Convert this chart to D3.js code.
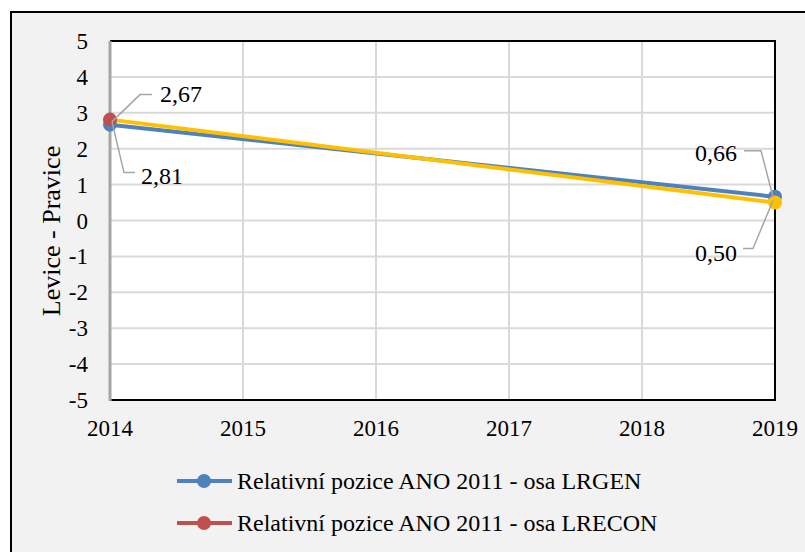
<!DOCTYPE html>
<head>
<meta charset="utf-8">
<style>
body { margin: 0; background: #fff; }
</style>
</head>
<body>
<script src="https://cdn.jsdelivr.net/npm/d3@7"></script>
<script>

// data
var years = [2014, 2019];
var lrgen = [2.67, 0.66];
var lrecon = [2.81, 0.50];
var yTicks = [-5, -4, -3, -2, -1, 0, 1, 2, 3, 4, 5];
var xTicks = [2014, 2015, 2016, 2017, 2018, 2019];
var seriesNames = ["Relativní pozice ANO 2011 - osa LRGEN", "Relativní pozice ANO 2011 - osa LRECON"];

var W = 805, H = 552;
var plot = {left: 110, right: 775, top: 41, bottom: 400};

var svg = d3.select("body").append("svg")
    .attr("width", W)
    .attr("height", H)
    .attr("font-family", "Liberation Serif");

// outer chart frame (runs off right and bottom edge)
svg.append("rect")
    .attr("x", 11).attr("y", 12)
    .attr("width", W + 20).attr("height", H + 20)
    .attr("fill", "#f2f2f2")
    .attr("stroke", "#000")
    .attr("stroke-width", 2);

var x = d3.scaleLinear().domain([2014, 2019]).range([plot.left, plot.right]);
var y = d3.scaleLinear().domain([-5, 5]).range([plot.bottom, plot.top]);

// plot area
svg.append("rect")
    .attr("x", plot.left).attr("y", plot.top)
    .attr("width", plot.right - plot.left).attr("height", plot.bottom - plot.top)
    .attr("fill", "#fff");

// grid
svg.append("g").selectAll("line").data(yTicks).join("line")
    .attr("x1", plot.left).attr("x2", plot.right)
    .attr("y1", d => y(d)).attr("y2", d => y(d))
    .attr("stroke", "#d9d9d9").attr("stroke-width", 2);
svg.append("g").selectAll("line").data(xTicks).join("line")
    .attr("x1", d => x(d)).attr("x2", d => x(d))
    .attr("y1", plot.top).attr("y2", plot.bottom)
    .attr("stroke", "#d9d9d9").attr("stroke-width", 2);

// plot border: black top/right/bottom, grey y axis on left
svg.append("path")
    .attr("d", "M" + plot.left + "," + plot.top + "H" + plot.right + "V" + plot.bottom + "H" + plot.left)
    .attr("fill", "none").attr("stroke", "#000").attr("stroke-width", 2);
svg.append("line")
    .attr("x1", plot.left).attr("x2", plot.left)
    .attr("y1", plot.top).attr("y2", plot.bottom + 1)
    .attr("stroke", "#a6a6a6").attr("stroke-width", 3);

// y tick labels
svg.append("g").selectAll("text").data(yTicks).join("text")
    .attr("x", 88).attr("y", d => y(d))
    .attr("dy", "0.35em")
    .attr("text-anchor", "end")
    .attr("font-size", 23)
    .text(d => d);

// x tick labels
svg.append("g").selectAll("text").data(xTicks).join("text")
    .attr("x", d => x(d)).attr("y", 428)
    .attr("dy", "0.35em")
    .attr("text-anchor", "middle")
    .attr("font-size", 23)
    .text(d => d);

// y axis title
svg.append("text")
    .attr("transform", "translate(51,231) rotate(-90)")
    .attr("text-anchor", "middle")
    .attr("dy", "0.35em")
    .attr("font-size", 26)
    .text("Levice - Pravice");

var line = d3.line().x(d => x(d[0])).y(d => y(d[1]));
var blueData = years.map((yr, i) => [yr, lrgen[i]]);
var yellowData = years.map((yr, i) => [yr, lrecon[i]]);

svg.append("path").datum(blueData)
    .attr("d", line).attr("fill", "none")
    .attr("stroke", "#4f81bd").attr("stroke-width", 4);
svg.append("path").datum(yellowData)
    .attr("d", line).attr("fill", "none")
    .attr("stroke", "#ffc000").attr("stroke-width", 4);

// markers
var blueColors = ["#4f81bd", "#4f81bd"];
var reconColors = ["#c0504d", "#ffc000"];
svg.append("g").selectAll("circle").data(blueData).join("circle")
    .attr("cx", d => x(d[0])).attr("cy", d => y(d[1])).attr("r", 7)
    .attr("fill", (d, i) => blueColors[i]);
svg.append("g").selectAll("circle").data(yellowData).join("circle")
    .attr("cx", d => x(d[0])).attr("cy", d => y(d[1])).attr("r", 7)
    .attr("fill", (d, i) => reconColors[i]);

// data labels with leader lines
var fmt = v => v.toFixed(2).replace(".", ",");
var leaders = [
  {v: lrgen[0], px: x(2014) + 2, py: y(lrecon[0]) + 2, pts: [[28, -27], [40, -27]], tx: x(2014) + 50, ty: y(lrecon[0]) - 26, a: "start"},
  {v: lrecon[0], px: x(2014) + 2, py: y(lrecon[0]) + 2, pts: [[12, 51], [23, 51]], tx: x(2014) + 31, ty: y(lrecon[0]) + 56, a: "start"},
  {v: lrgen[1], px: x(2019) - 2, py: y(lrgen[1]), pts: [[-12, -46], [-29, -46]], tx: x(2019) - 38, ty: y(lrgen[1]) - 44, a: "end"},
  {v: lrecon[1], px: x(2019) - 2, py: y(lrecon[1]) - 2, pts: [[-20, 48], [-30, 48]], tx: x(2019) - 38, ty: y(lrecon[1]) + 50, a: "end"}
];
leaders.forEach(function(l) {
  var d = "M" + l.px + "," + l.py + l.pts.map(p => "L" + (l.px + p[0]) + "," + (l.py + p[1])).join("");
  svg.append("path").attr("d", d).attr("fill", "none")
      .attr("stroke", "#a6a6a6").attr("stroke-width", 1.5);
  svg.append("text")
      .attr("x", l.tx).attr("y", l.ty).attr("dy", "0.35em")
      .attr("text-anchor", l.a).attr("font-size", 24)
      .text(fmt(l.v));
});

// legend
var legendColors = ["#4f81bd", "#c0504d"];
var lg = svg.append("g").selectAll("g").data(seriesNames).join("g")
    .attr("transform", (d, i) => "translate(177," + (481 + i * 42) + ")");
lg.append("line").attr("x1", 0).attr("x2", 55)
    .attr("stroke", (d, i) => legendColors[i]).attr("stroke-width", 4);
lg.append("circle").attr("cx", 27).attr("r", 7)
    .attr("fill", (d, i) => legendColors[i]);
lg.append("text").attr("x", 60).attr("dy", "0.35em")
    .attr("font-size", 24)
    .text(d => d);

</script>
</body>
